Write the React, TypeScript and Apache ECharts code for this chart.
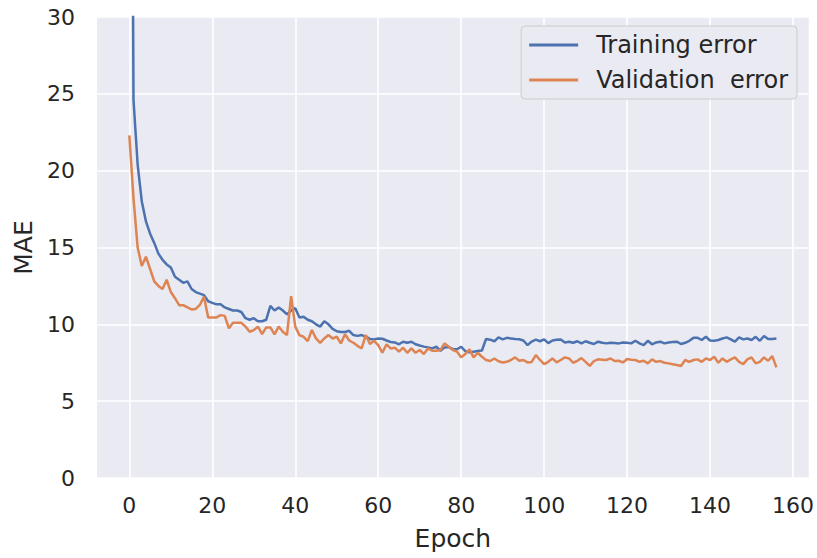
import React, { useEffect, useRef } from "react";
import * as echarts from "echarts";

// Mean absolute error per epoch (epochs 0..156)
const trainingError: number[] = [
  80, 24.6, 20.4, 18.0, 16.7, 15.9, 15.3, 14.6, 14.2, 13.9,
  13.7, 13.1, 12.9, 12.7, 12.8, 12.3, 12.1, 12.0, 11.9, 11.5,
  11.4, 11.3, 11.3, 11.1, 11.0, 10.9, 10.9, 10.8, 10.4, 10.3,
  10.4, 10.2, 10.2, 10.3, 11.2, 10.9, 11.1, 10.9, 10.65, 10.9,
  11.05, 10.45, 10.5, 10.3, 10.2, 10.0, 9.85, 10.2, 10.0, 9.7,
  9.55, 9.5, 9.5, 9.58, 9.3, 9.25, 9.3, 9.2, 9.05, 9.02,
  9.08, 9.06, 8.95, 8.85, 8.82, 8.7, 8.87, 8.8, 8.87, 8.7,
  8.62, 8.55, 8.5, 8.43, 8.54, 8.28, 8.5, 8.52, 8.38, 8.38,
  8.54, 8.25, 8.18, 8.22, 8.26, 8.3, 9.05, 9.0, 8.9, 9.15,
  9.02, 9.12, 9.08, 9.04, 9.03, 8.95, 8.65, 8.88, 9.0, 8.9,
  9.02, 8.78, 8.95, 9.0, 9.02, 8.82, 8.87, 8.8, 8.9, 8.76,
  8.9, 8.8, 8.72, 8.87, 8.8, 8.76, 8.8, 8.78, 8.76, 8.82,
  8.8, 8.76, 8.93, 8.76, 8.65, 8.93, 8.7, 8.82, 8.87, 8.76,
  8.82, 8.85, 8.87, 8.72, 8.8, 8.93, 9.12, 9.12, 8.98, 9.19,
  8.95, 8.93, 8.98, 9.08, 9.15, 9.02, 8.87, 9.15, 9.02, 9.08,
  8.98, 9.19, 8.93, 9.24, 9.04, 9.05, 9.08,
];

const validationError: number[] = [
  22.3, 18.2, 15.0, 13.8, 14.4, 13.6, 12.8, 12.5, 12.3, 12.9,
  12.1, 11.7, 11.25, 11.25, 11.1, 10.97, 11.0, 11.26, 11.8, 10.45,
  10.45, 10.45, 10.6, 10.55, 9.74, 10.1, 10.1, 10.1, 9.85, 9.52,
  9.62, 9.85, 9.37, 9.8, 9.8, 9.35, 9.85, 9.52, 9.3, 11.84,
  9.85, 9.3, 9.19, 8.91, 9.63, 9.08, 8.8, 9.08, 9.3, 9.08,
  9.19, 8.76, 9.35, 8.95, 8.8, 8.6, 8.43, 9.3, 8.72, 8.93,
  8.65, 8.15, 8.7, 8.43, 8.48, 8.22, 8.48, 8.15, 8.43, 8.15,
  8.33, 8.07, 8.43, 8.28, 8.28, 8.33, 8.76, 8.54, 8.33, 8.22,
  7.85, 8.07, 8.37, 7.85, 8.15, 7.89, 7.68, 7.61, 7.78, 7.6,
  7.52, 7.56, 7.68, 7.85, 7.63, 7.68, 7.52, 7.55, 8.0, 7.68,
  7.41, 7.56, 7.78, 7.52, 7.68, 7.85, 7.78, 7.5, 7.63, 7.8,
  7.56, 7.29, 7.61, 7.72, 7.7, 7.68, 7.78, 7.61, 7.63, 7.52,
  7.74, 7.7, 7.68, 7.56, 7.63, 7.46, 7.72, 7.56, 7.61, 7.5,
  7.46, 7.4, 7.35, 7.29, 7.68, 7.56, 7.68, 7.72, 7.56, 7.78,
  7.68, 7.89, 7.5, 7.78, 7.56, 7.72, 7.85, 7.56, 7.41, 7.72,
  7.85, 7.46, 7.56, 7.85, 7.63, 7.93, 7.2,
];

const epochTicks: number[] = [0, 20, 40, 60, 80, 100, 120, 140, 160];
const seriesNames: string[] = ["Training error", "Validation  error"];

const FONT = "DejaVu Sans";
const TEXT = "#262626";

export default function App() {
  const ref = useRef<HTMLDivElement>(null);

  useEffect(() => {
    if (!ref.current) return;
    const chart = echarts.init(ref.current, null, { renderer: "svg" });
    const toPairs = (arr: number[]) => arr.map((v, i) => [i, v]);
    const n = trainingError.length - 1;
    const pad = n * 0.05;

    chart.setOption({
      animation: false,
      backgroundColor: "#ffffff",
      textStyle: { fontFamily: FONT },
      grid: {
        left: 97,
        right: 2,
        top: 17,
        bottom: 80,
        show: true,
        backgroundColor: "#EAEAF2",
        borderWidth: 0,
      },
      xAxis: {
        type: "value",
        min: -pad,
        max: n + pad,
        name: "Epoch",
        nameLocation: "middle",
        nameGap: 48,
        nameTextStyle: { fontFamily: FONT, fontSize: 25, color: TEXT },
        axisLine: { show: false },
        axisTick: { show: false, customValues: epochTicks },
        axisLabel: {
          customValues: epochTicks,
          fontFamily: FONT,
          fontSize: 22,
          color: TEXT,
          margin: 16,
        },
        splitLine: { show: true, lineStyle: { color: "#ffffff", width: 1.6 } },
      },
      yAxis: {
        type: "value",
        min: 0,
        max: 30,
        interval: 5,
        name: "MAE",
        nameLocation: "middle",
        nameGap: 60,
        nameTextStyle: { fontFamily: FONT, fontSize: 25, color: TEXT },
        axisLine: { show: false },
        axisTick: { show: false },
        axisLabel: { fontFamily: FONT, fontSize: 22, color: TEXT, margin: 22 },
        splitLine: { show: true, lineStyle: { color: "#ffffff", width: 1.6 } },
      },
      legend: {
        orient: "vertical",
        right: 20,
        top: 26,
        padding: [6, 9, 6, 8],
        itemGap: 9,
        itemWidth: 49,
        itemHeight: 3,
        icon: "rect",
        backgroundColor: "#EAEAF2",
        borderColor: "#CCCCCC",
        borderWidth: 1,
        borderRadius: 4,
        textStyle: {
          fontFamily: FONT,
          fontSize: 24,
          color: TEXT,
          lineHeight: 26,
          padding: [0, 0, 0, 13],
        },
        data: seriesNames,
      },
      series: [
        {
          name: seriesNames[0],
          type: "line",
          data: toPairs(trainingError),
          showSymbol: false,
          clip: true,
          color: "#4C72B0",
          lineStyle: { width: 2.5, color: "#4C72B0" },
        },
        {
          name: seriesNames[1],
          type: "line",
          data: toPairs(validationError),
          showSymbol: false,
          clip: true,
          color: "#DD8452",
          lineStyle: { width: 2.5, color: "#DD8452" },
        },
      ],
    });

    return () => chart.dispose();
  }, []);

  return (
    <div
      ref={ref}
      style={{ position: "absolute", left: 0, top: 0, width: 817, height: 558 }}
    />
  );
}
